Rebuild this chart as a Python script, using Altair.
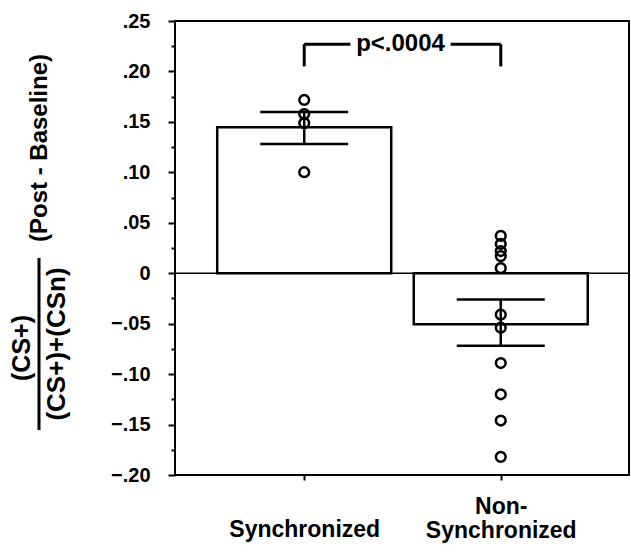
import altair as alt
import pandas as pd

# ---- data ----
categories = ["Synchronized", "Non-Synchronized"]
cat_pos = [1, 2]
means = [0.1446, -0.0505]
err_low = [0.1281, -0.0720]
err_high = [0.1598, -0.0260]
sync_points = [0.1717, 0.1578, 0.1488, 0.1001]
nonsync_points = [0.037, 0.029, 0.022, 0.017, 0.005, -0.041, -0.054,
                  -0.089, -0.120, -0.146, -0.182]
y_ticks = [round(-0.2 + 0.025 * i, 3) for i in range(19)]
p_label = "p<.0004"
bracket_y = [0.205, 0.227]
title_main = "(Post - Baseline)"
title_num = "(CS+)"
title_den = "(CS+)+(CSn)"

FONT = "Liberation Sans"

bars_df = pd.DataFrame({"cat": categories, "pos": cat_pos, "mean": means,
                        "lo": err_low, "hi": err_high})
caps_df = pd.DataFrame({"pos": cat_pos * 2, "v": err_low + err_high})
pts_df = pd.DataFrame({
    "pos": [cat_pos[0]] * len(sync_points) + [cat_pos[1]] * len(nonsync_points),
    "v": sync_points + nonsync_points,
})

xscale = alt.Scale(domain=[0.368, 2.627], nice=False, zero=False)
yscale = alt.Scale(domain=[-0.2, 0.25], nice=False, zero=False)

x_axis = alt.Axis(
    values=cat_pos, title=None, grid=False, domain=False,
    tickSize=5, tickWidth=2, tickColor="black",
    labelExpr="datum.value == 1 ? 'Synchronized' : ['Non-', 'Synchronized']",
    labelFont=FONT, labelFontSize=23, labelFontWeight="bold", labelColor="black",
    labelBaseline={"condition": {"test": "datum.value == 1", "value": "top"}, "value": "bottom"},
    labelLineHeight=24, labelPadding=38,
    labelAngle=0,
)
y_axis = alt.Axis(
    values=y_ticks, title=None, grid=False, domain=False,
    tickSize={"condition": {"test": "abs(round(datum.value*40)) % 2 == 1", "value": 4}, "value": 7},
    tickWidth=2, tickColor="black",
    labelExpr="abs(round(datum.value*40)) % 2 == 1 ? '' : (abs(datum.value) < 1e-9 ? '0' : replace(format(datum.value, '.2f'), '0.', '.'))",
    labelFont=FONT, labelFontSize=20, labelFontWeight="bold", labelColor="black",
    labelPadding=18,
)


def X(field):
    return alt.X(field, scale=xscale, axis=x_axis)


def Y(field):
    return alt.Y(field, scale=yscale, axis=y_axis)


bars = alt.Chart(bars_df).mark_bar(
    width=174, fill="white", stroke="black", strokeWidth=2.5
).encode(x=X("pos:Q"), y=Y("mean:Q"))

zero = alt.Chart(pd.DataFrame({"z": [0.0]})).mark_rule(
    color="black", strokeWidth=1.5
).encode(y=Y("z:Q"))

err = alt.Chart(bars_df).mark_rule(color="black", strokeWidth=2.5).encode(
    x=X("pos:Q"), y=Y("lo:Q"), y2="hi:Q")

caps = alt.Chart(caps_df).mark_tick(
    orient="horizontal", size=88, thickness=2.5, color="black", opacity=1
).encode(x=X("pos:Q"), y=Y("v:Q"))

pts = alt.Chart(pts_df).mark_point(
    shape="circle", filled=False, size=95, stroke="black", strokeWidth=2.5, opacity=1
).encode(x=X("pos:Q"), y=Y("v:Q"))

# significance bracket
mid = (cat_pos[0] + cat_pos[1]) / 2 - 0.01
gap = 0.255
legs_df = pd.DataFrame({"pos": cat_pos, "y1": [bracket_y[0]] * 2, "y2": [bracket_y[1]] * 2})
segs_df = pd.DataFrame({"x1": [cat_pos[0], mid + gap], "x2": [mid - gap, cat_pos[1]],
                        "y": [bracket_y[1]] * 2})
legs = alt.Chart(legs_df).mark_rule(color="black", strokeWidth=3).encode(
    x=X("pos:Q"), y=Y("y1:Q"), y2="y2:Q")
segs = alt.Chart(segs_df).mark_rule(color="black", strokeWidth=3).encode(
    x=X("x1:Q"), x2="x2:Q", y=Y("y:Q"))
ptext = alt.Chart(pd.DataFrame({"x": [mid], "y": [bracket_y[1]], "t": [p_label]})).mark_text(
    font=FONT, fontSize=24, fontWeight="bold", color="black", baseline="middle", align="center"
).encode(x=X("x:Q"), y=Y("y:Q"), text="t:N")

# y-axis title (fraction)
one = pd.DataFrame({"a": [0]})
t_main = alt.Chart(one).mark_text(
    text=title_main, angle=270, font=FONT, fontSize=24, fontWeight="bold",
    color="black", align="center", baseline="middle"
).encode(x=alt.value(-135), y=alt.value(127))
t_num = alt.Chart(one).mark_text(
    text=title_num, angle=270, font=FONT, fontSize=25, fontWeight="bold",
    color="black", align="center", baseline="middle"
).encode(x=alt.value(-153), y=alt.value(327))
t_den = alt.Chart(one).mark_text(
    text=title_den, angle=270, font=FONT, fontSize=26, fontWeight="bold",
    color="black", align="center", baseline="middle"
).encode(x=alt.value(-118), y=alt.value(323))
t_line = alt.Chart(one).mark_rule(color="black", strokeWidth=3).encode(
    x=alt.value(-136), y=alt.value(237), y2=alt.value(409))

chart = alt.layer(
    bars, zero, err, caps, pts, legs, segs, ptext, t_main, t_num, t_den, t_line
).properties(
    width=454, height=454,
    autosize=alt.AutoSizeParams(type="none"),
    padding={"left": 175, "top": 21, "right": 2, "bottom": 81},
    background="white",
).configure_view(
    stroke="black", strokeWidth=2
)

chart.save("out.html", embed_options={"renderer": "svg", "actions": False})
